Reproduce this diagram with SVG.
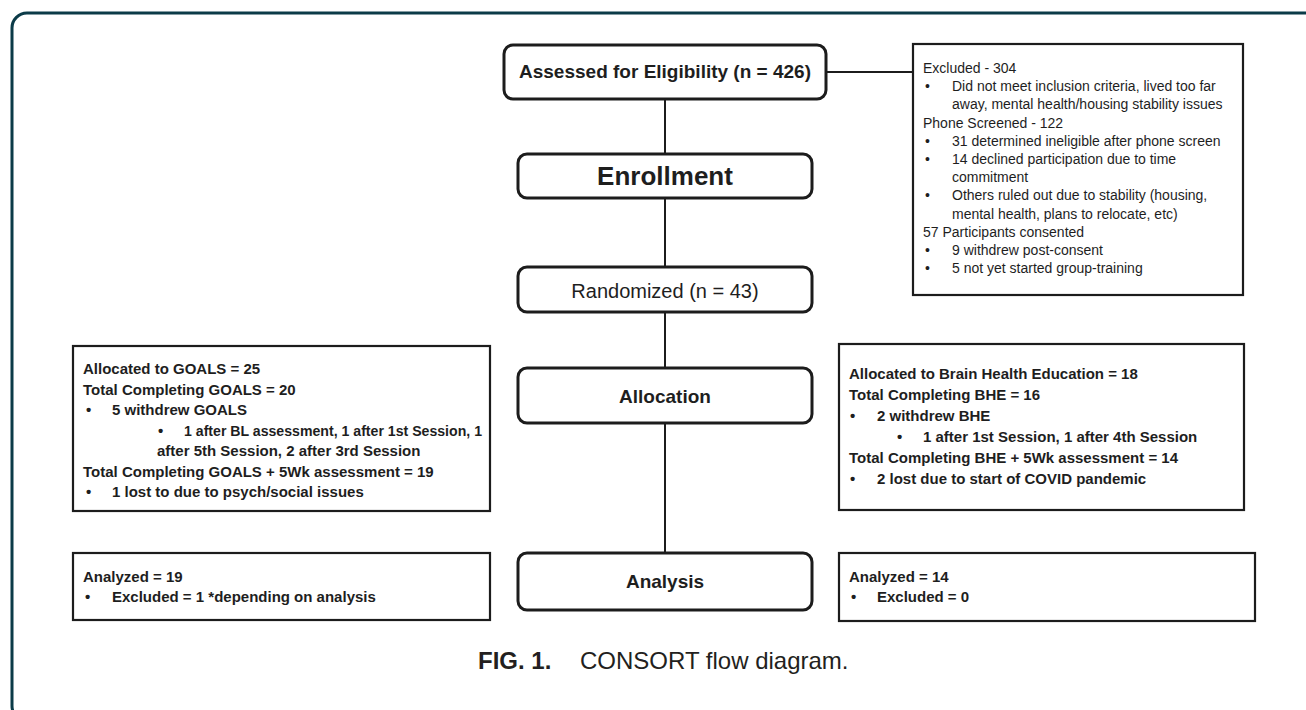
<svg xmlns="http://www.w3.org/2000/svg" width="1306" height="710" viewBox="0 0 1306 710">
<style>
.frame{fill:none;stroke:#0b3b48;stroke-width:3}
.main{fill:#fff;stroke:#1c1c1c;stroke-width:3}
.side{fill:#fff;stroke:#1c1c1c;stroke-width:2.2}
.conn{stroke:#1c1c1c;stroke-width:2;fill:none}
.t{font-family:"Liberation Sans",Arial,sans-serif;fill:#1e1e1e}
.b{font-weight:bold}
.ex{font-size:14px}
.sb{font-size:15px;font-weight:bold}
.cap{font-family:"Liberation Sans",Arial,sans-serif;fill:#231f20;font-size:24px}
</style>
<rect width="1306" height="710" fill="#fff"/>
<rect class="frame" x="12" y="13" width="1320" height="708" rx="15"/>

<g id="connectors">
<line class="conn" x1="826" y1="72" x2="913" y2="72"/>
<line class="conn" x1="665" y1="99" x2="665" y2="154"/>
<line class="conn" x1="665" y1="198" x2="665" y2="267"/>
<line class="conn" x1="665" y1="312" x2="665" y2="368"/>
<line class="conn" x1="665" y1="423" x2="665" y2="553"/>
</g>

<g id="assessed">
<rect class="main" x="504" y="45" width="322" height="54" rx="9"/>
<text class="t b" x="665" y="78" font-size="19" text-anchor="middle">Assessed for Eligibility (n = 426)</text>
</g>

<g id="excluded">
<rect class="side" x="913" y="44" width="330" height="251"/>
<g class="t ex">
<text x="923" y="73">Excluded - 304</text>
<text x="925" y="91.2">•</text><text x="952" y="91.2">Did not meet inclusion criteria, lived too far</text>
<text x="952" y="109.4">away, mental health/housing stability issues</text>
<text x="923" y="127.6">Phone Screened - 122</text>
<text x="925" y="145.8">•</text><text x="952" y="145.8">31 determined ineligible after phone screen</text>
<text x="925" y="164">•</text><text x="952" y="164">14 declined participation due to time</text>
<text x="952" y="182.2">commitment</text>
<text x="925" y="200.4">•</text><text x="952" y="200.4">Others ruled out due to stability (housing,</text>
<text x="952" y="218.6">mental health, plans to relocate, etc)</text>
<text x="923" y="236.8">57 Participants consented</text>
<text x="925" y="255">•</text><text x="952" y="255">9 withdrew post-consent</text>
<text x="925" y="273.2">•</text><text x="952" y="273.2">5 not yet started group-training</text>
</g>
</g>

<g id="enrollment">
<rect class="main" x="518" y="154" width="294" height="44" rx="9"/>
<text class="t b" x="665" y="185" font-size="26" text-anchor="middle">Enrollment</text>
</g>

<g id="randomized">
<rect class="main" x="518" y="267" width="294" height="45" rx="9"/>
<text class="t" x="665" y="298" font-size="20" text-anchor="middle">Randomized (n = 43)</text>
</g>

<g id="allocation">
<rect class="main" x="518" y="368" width="294" height="55" rx="9"/>
<text class="t b" x="665" y="403" font-size="19" text-anchor="middle">Allocation</text>
</g>

<g id="goals">
<rect class="side" x="73" y="346" width="417" height="165"/>
<g class="t sb">
<text x="83" y="374">Allocated to GOALS = 25</text>
<text x="83" y="394.5">Total Completing GOALS = 20</text>
<text x="86" y="415">•</text><text x="112" y="415">5 withdrew GOALS</text>
<text x="158" y="435.5">•</text><text x="184" y="435.5" textLength="298" lengthAdjust="spacingAndGlyphs">1 after BL assessment, 1 after 1st Session, 1</text>
<text x="157" y="456">after 5th Session, 2 after 3rd Session</text>
<text x="83" y="476.5">Total Completing GOALS + 5Wk assessment = 19</text>
<text x="86" y="497">•</text><text x="112" y="497">1 lost to due to psych/social issues</text>
</g>
</g>

<g id="bhe">
<rect class="side" x="839" y="344" width="405" height="166"/>
<g class="t sb">
<text x="849" y="379">Allocated to Brain Health Education = 18</text>
<text x="849" y="400">Total Completing BHE = 16</text>
<text x="850" y="421">•</text><text x="877" y="421">2 withdrew BHE</text>
<text x="897" y="442">•</text><text x="923" y="442">1 after 1st Session, 1 after 4th Session</text>
<text x="849" y="463">Total Completing BHE + 5Wk assessment = 14</text>
<text x="850" y="484">•</text><text x="877" y="484">2 lost due to start of COVID pandemic</text>
</g>
</g>

<g id="analysis">
<rect class="main" x="518" y="553" width="294" height="57" rx="9"/>
<text class="t b" x="665" y="588" font-size="19" text-anchor="middle">Analysis</text>
</g>

<g id="analyzed-goals">
<rect class="side" x="73" y="553" width="417" height="67"/>
<g class="t sb">
<text x="83" y="582">Analyzed = 19</text>
<text x="85" y="602">•</text><text x="112" y="602">Excluded = 1 *depending on analysis</text>
</g>
</g>

<g id="analyzed-bhe">
<rect class="side" x="839" y="553" width="416" height="68"/>
<g class="t sb">
<text x="849" y="582">Analyzed = 14</text>
<text x="851" y="602">•</text><text x="877" y="602">Excluded = 0</text>
</g>
</g>

<g id="caption">
<text class="cap" x="478" y="669" font-weight="bold">FIG. 1.</text>
<text class="cap" x="580" y="669">CONSORT flow diagram.</text>
</g>
</svg>
